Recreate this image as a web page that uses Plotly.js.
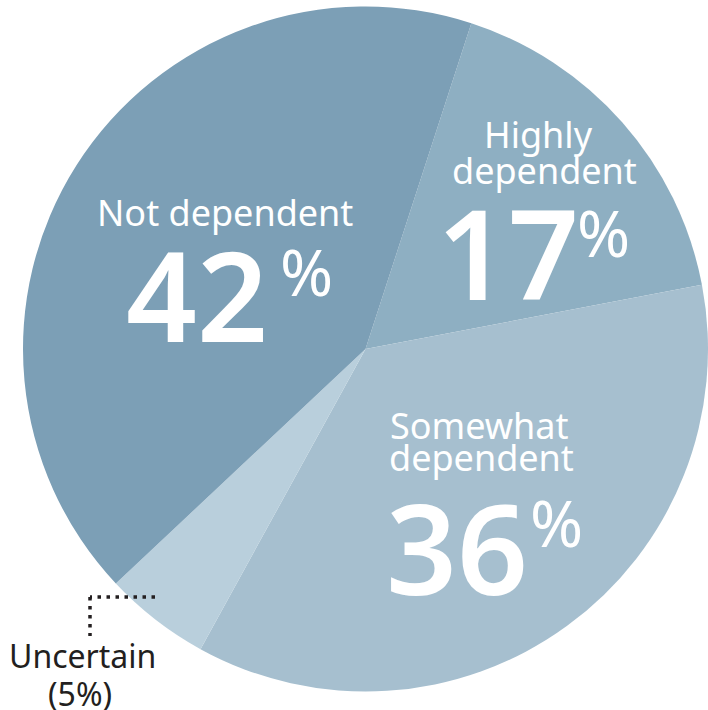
<!DOCTYPE html>
<html>
<head>
<meta charset="utf-8">
<script src="https://cdn.plot.ly/plotly-3.0.1.min.js"></script>
<style>html,body{margin:0;padding:0;background:#fff;}#chart{width:708px;height:710px;}</style>
</head>
<body>
<div id="chart"></div>
<script>
// ---- data ----
const categories = ["Highly dependent", "Somewhat dependent", "Uncertain", "Not dependent"];
const values = [17, 36, 5, 42];
const colors = ["#8eafc2", "#a6bfcf", "#b9cfdc", "#7c9fb6"];

// ---- layout helpers (pixel -> paper) ----
const W = 708, H = 710;
const px = x => x / W;
const py = y => 1 - y / H;

const FONT = "Noto Sans, sans-serif";
const WHITE = "#ffffff";

// label placements: [name lines], number centre, percent centre (pixel positions)
const labelSpec = {
  "Not dependent": {lines: [["Not dependent", 225, 212]], num: [197, 293], pct: [306, 272]},
  "Highly dependent": {lines: [["Highly", 538, 135], ["dependent", 544, 170]], num: [508, 252], pct: [603, 232]},
  "Somewhat dependent": {lines: [["Somewhat", 479, 425], ["dependent", 481, 457]], num: [457, 546], pct: [556, 522]}
};

const annotations = [];
categories.forEach((c, i) => {
  const s = labelSpec[c];
  if (!s) return;
  s.lines.forEach(([t, x, y]) => annotations.push({
    text: t, x: px(x), y: py(y), xref: "paper", yref: "paper",
    xanchor: "center", yanchor: "middle", showarrow: false,
    font: {family: FONT, size: 36, color: WHITE}
  }));
  annotations.push({
    text: String(values[i]), x: px(s.num[0]), y: py(s.num[1]), xref: "paper", yref: "paper",
    xanchor: "center", yanchor: "middle", showarrow: false,
    font: {family: FONT, size: 124, color: WHITE, weight: 600}
  });
  annotations.push({
    text: "%", x: px(s.pct[0]), y: py(s.pct[1]), xref: "paper", yref: "paper",
    xanchor: "center", yanchor: "middle", showarrow: false,
    font: {family: FONT, size: 64, color: WHITE}
  });
});
// outside label for the small slice
const ui = categories.indexOf("Uncertain");
annotations.push({
  text: categories[ui], x: px(82), y: py(655), xref: "paper", yref: "paper",
  xanchor: "center", yanchor: "middle", showarrow: false,
  font: {family: FONT, size: 32, color: "#231f20"}
});
annotations.push({
  text: "(" + values[ui] + "%)", x: px(80), y: py(693), xref: "paper", yref: "paper",
  xanchor: "center", yanchor: "middle", showarrow: false,
  font: {family: FONT, size: 32, color: "#231f20"}
});

const shapes = [
  {type: "line", xref: "paper", yref: "paper", x0: px(155), y0: py(597), x1: px(90), y1: py(597),
   line: {color: "#231f20", width: 3.5, dash: "3.5px,5.5px"}},
  {type: "line", xref: "paper", yref: "paper", x0: px(90), y0: py(597), x1: px(90), y1: py(636),
   line: {color: "#231f20", width: 3.5, dash: "3.5px,5.5px"}}
];

const trace = {
  type: "pie",
  labels: categories,
  values: values,
  marker: {colors: colors, line: {width: 0}},
  sort: false,
  direction: "clockwise",
  rotation: 18,
  textinfo: "none",
  hoverinfo: "label+percent",
  domain: {x: [px(23), 1], y: [py(692), py(6)]}
};

const layout = {
  width: W, height: H,
  margin: {l: 0, r: 0, t: 0, b: 0},
  paper_bgcolor: "#ffffff",
  showlegend: false,
  annotations: annotations,
  shapes: shapes
};

Plotly.newPlot("chart", [trace], layout, {displayModeBar: false, staticPlot: true});
</script>
</body>
</html>
